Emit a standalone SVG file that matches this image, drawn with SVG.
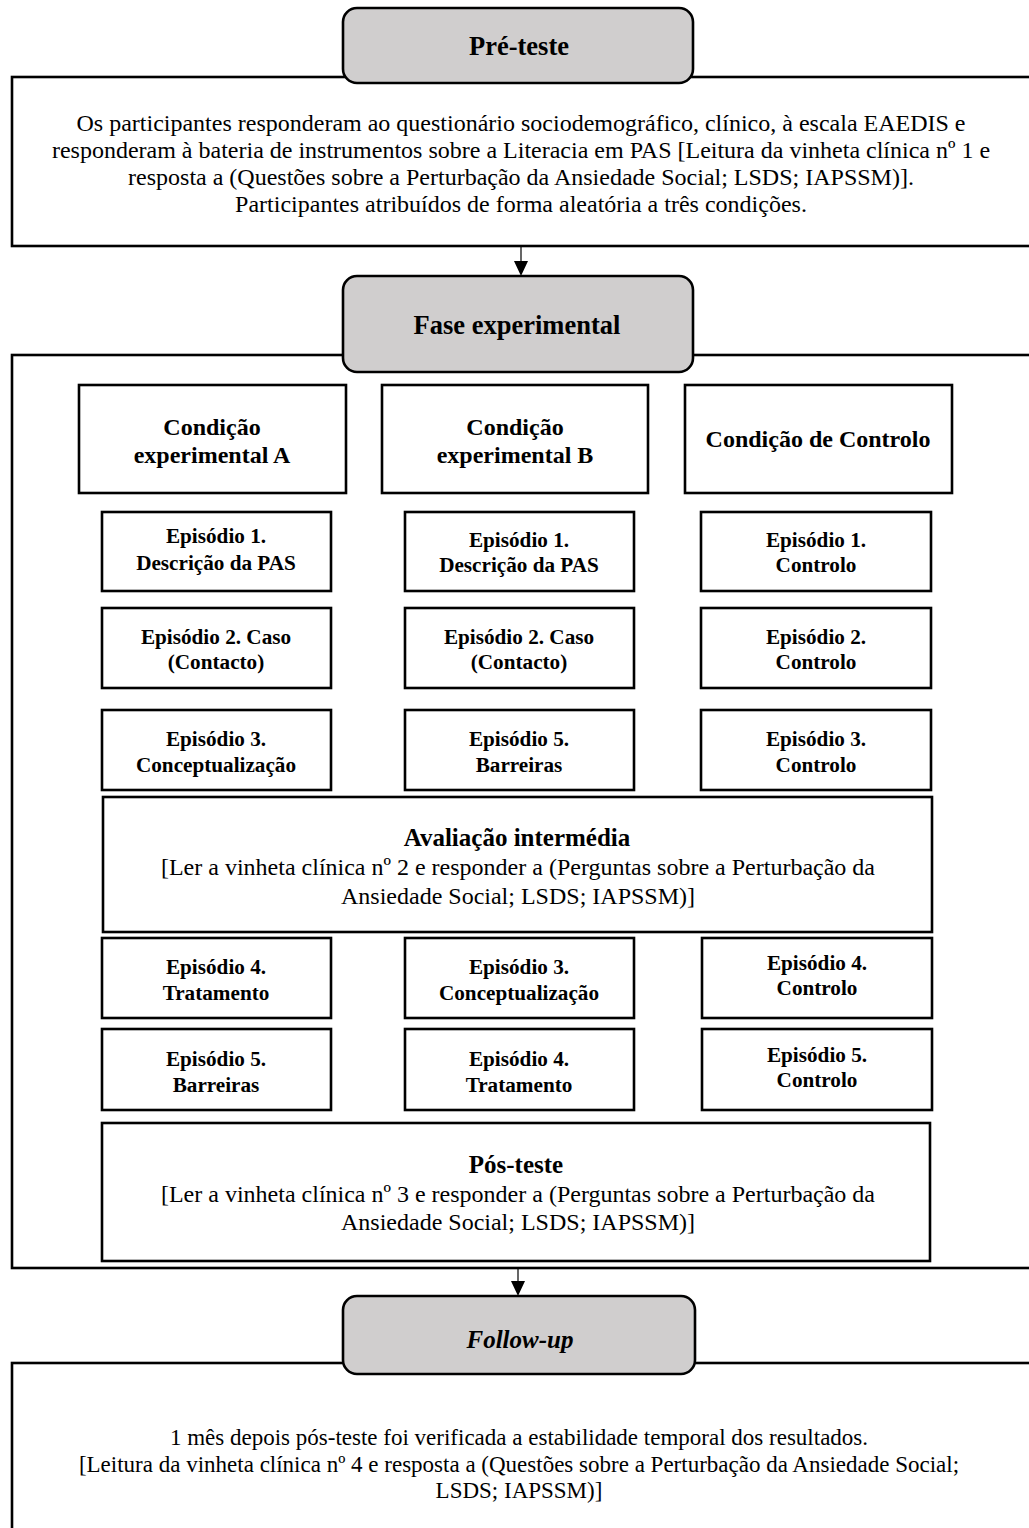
<svg xmlns="http://www.w3.org/2000/svg" width="1029" height="1528" viewBox="0 0 1029 1528">
<style>
.frame{fill:#fff;stroke:#000;stroke-width:2.6}
.tab{fill:#d0cece;stroke:#000;stroke-width:2.6}
.box{fill:#fff;stroke:#000;stroke-width:2.6}
.t{font-family:"Liberation Serif","Times New Roman",serif;fill:#000;text-anchor:middle}
.tab-t{font-size:26.5px;font-weight:bold}
.tt{font-size:25px;font-weight:bold}
.ch{font-size:24px;font-weight:bold}
.ep{font-size:21.2px;font-weight:bold}
.p{font-size:24px}
.pf{font-size:23px}
.conn{stroke:#000;stroke-width:1.2;fill:none}
</style>
<rect width="1029" height="1528" fill="#fff"/>

<g id="pre">
<rect class="frame" x="12" y="77" width="1040" height="169"/>
<rect class="tab" x="343" y="8" width="350" height="75" rx="14"/>
<text class="t tab-t" x="519" y="55">Pré-teste</text>
<text class="t p" x="521" y="131">Os participantes responderam ao questionário sociodemográfico, clínico, à escala EAEDIS e</text>
<text class="t p" x="521" y="158">responderam à bateria de instrumentos sobre a Literacia em PAS [Leitura da vinheta clínica nº 1 e</text>
<text class="t p" x="521" y="185">resposta a (Questões sobre a Perturbação da Ansiedade Social; LSDS; IAPSSM)].</text>
<text class="t p" x="521" y="212">Participantes atribuídos de forma aleatória a três condições.</text>
</g>

<g id="fase">
<rect class="frame" x="12" y="355" width="1040" height="913"/>
<rect class="tab" x="343" y="276" width="350" height="96" rx="14"/>
<text class="t tab-t" x="517" y="334">Fase experimental</text>
</g>

<g id="condA">
<rect class="box" x="79" y="385" width="267" height="108"/>
<text class="t ch" x="212" y="435">Condição</text>
<text class="t ch" x="212" y="463">experimental A</text>
</g>
<g id="condB">
<rect class="box" x="382" y="385" width="266" height="108"/>
<text class="t ch" x="515" y="435">Condição</text>
<text class="t ch" x="515" y="463">experimental B</text>
</g>
<g id="condC">
<rect class="box" x="685" y="385" width="267" height="108"/>
<text class="t ch" x="818" y="447">Condição de Controlo</text>
</g>

<g id="a1"><rect class="box" x="102" y="512" width="229" height="79"/>
<text class="t ep" x="216" y="543">Episódio 1.</text><text class="t ep" x="216" y="570">Descrição da PAS</text></g>
<g id="b1"><rect class="box" x="405" y="512" width="229" height="79"/>
<text class="t ep" x="519" y="547">Episódio 1.</text><text class="t ep" x="519" y="572">Descrição da PAS</text></g>
<g id="c1"><rect class="box" x="701" y="512" width="230" height="79"/>
<text class="t ep" x="816" y="547">Episódio 1.</text><text class="t ep" x="816" y="572">Controlo</text></g>

<g id="a2"><rect class="box" x="102" y="608" width="229" height="80"/>
<text class="t ep" x="216" y="644">Episódio 2. Caso</text><text class="t ep" x="216" y="669">(Contacto)</text></g>
<g id="b2"><rect class="box" x="405" y="608" width="229" height="80"/>
<text class="t ep" x="519" y="644">Episódio 2. Caso</text><text class="t ep" x="519" y="669">(Contacto)</text></g>
<g id="c2"><rect class="box" x="701" y="608" width="230" height="80"/>
<text class="t ep" x="816" y="644">Episódio 2.</text><text class="t ep" x="816" y="669">Controlo</text></g>

<g id="a3"><rect class="box" x="102" y="710" width="229" height="80"/>
<text class="t ep" x="216" y="746">Episódio 3.</text><text class="t ep" x="216" y="772">Conceptualização</text></g>
<g id="b3"><rect class="box" x="405" y="710" width="229" height="80"/>
<text class="t ep" x="519" y="746">Episódio 5.</text><text class="t ep" x="519" y="772">Barreiras</text></g>
<g id="c3"><rect class="box" x="701" y="710" width="230" height="80"/>
<text class="t ep" x="816" y="746">Episódio 3.</text><text class="t ep" x="816" y="772">Controlo</text></g>

<g id="avaliacao">
<rect class="box" x="103" y="797" width="829" height="135"/>
<text class="t tt" x="517" y="846">Avaliação intermédia</text>
<text class="t p" x="518" y="875">[Ler a vinheta clínica nº 2 e responder a (Perguntas sobre a Perturbação da</text>
<text class="t p" x="518" y="904">Ansiedade Social; LSDS; IAPSSM)]</text>
</g>

<g id="a4"><rect class="box" x="102" y="938" width="229" height="80"/>
<text class="t ep" x="216" y="974">Episódio 4.</text><text class="t ep" x="216" y="1000">Tratamento</text></g>
<g id="b4"><rect class="box" x="405" y="938" width="229" height="80"/>
<text class="t ep" x="519" y="974">Episódio 3.</text><text class="t ep" x="519" y="1000">Conceptualização</text></g>
<g id="c4"><rect class="box" x="702" y="938" width="230" height="80"/>
<text class="t ep" x="817" y="970">Episódio 4.</text><text class="t ep" x="817" y="995">Controlo</text></g>

<g id="a5"><rect class="box" x="102" y="1029" width="229" height="81"/>
<text class="t ep" x="216" y="1066">Episódio 5.</text><text class="t ep" x="216" y="1092">Barreiras</text></g>
<g id="b5"><rect class="box" x="405" y="1029" width="229" height="81"/>
<text class="t ep" x="519" y="1066">Episódio 4.</text><text class="t ep" x="519" y="1092">Tratamento</text></g>
<g id="c5"><rect class="box" x="702" y="1029" width="230" height="81"/>
<text class="t ep" x="817" y="1062">Episódio 5.</text><text class="t ep" x="817" y="1087">Controlo</text></g>

<g id="posteste">
<rect class="box" x="102" y="1123" width="828" height="138"/>
<text class="t tt" x="516" y="1173">Pós-teste</text>
<text class="t p" x="518" y="1202">[Ler a vinheta clínica nº 3 e responder a (Perguntas sobre a Perturbação da</text>
<text class="t p" x="518" y="1230">Ansiedade Social; LSDS; IAPSSM)]</text>
</g>

<g id="followup">
<rect class="frame" x="12" y="1363" width="1040" height="200"/>
<rect class="tab" x="343" y="1296" width="352" height="78" rx="14"/>
<text class="t tt" x="520" y="1348" font-style="italic">Follow-up</text>
<text class="t pf" x="519" y="1445">1 mês depois pós-teste foi verificada a estabilidade temporal dos resultados.</text>
<text class="t pf" x="519" y="1472">[Leitura da vinheta clínica nº 4 e resposta a (Questões sobre a Perturbação da Ansiedade Social;</text>
<text class="t pf" x="519" y="1498">LSDS; IAPSSM)]</text>
</g>

<g id="connectors">
<line class="conn" x1="521" y1="246" x2="521" y2="262"/>
<polygon points="514,261 528,261 521,276" fill="#000"/>
<line class="conn" x1="518" y1="1268" x2="518" y2="1282"/>
<polygon points="511,1281 525,1281 518,1296" fill="#000"/>
</g>
</svg>
